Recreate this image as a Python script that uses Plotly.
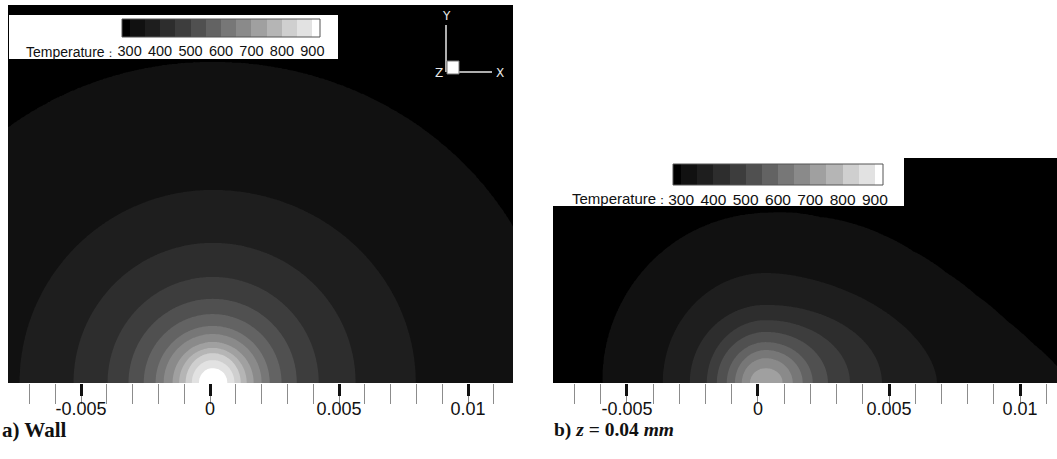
import numpy as np
import plotly.graph_objects as go

W, H = 1057, 459

# isotherm levels (K) and the grey of each band: below 300 ... above 900
LEVELS = [300, 350, 400, 450, 500, 550, 600, 650, 700, 750, 800, 850, 900]
LEVEL_STEP = 50
BAND_GREYS = ["#000000", "#111111", "#1e1e1e", "#2d2d2d", "#3d3d3d", "#505050",
              "#636363", "#777777", "#8a8a8a", "#a0a0a0", "#b5b5b5", "#cfcfcf",
              "#e2e2e2", "#ffffff"]
LEGEND_EDGES = [275, 300, 350, 400, 450, 500, 550, 600, 650, 700, 750, 800, 850, 900, 925]
LEGEND_TICKS = [300, 400, 500, 600, 700, 800, 900]

X_TICKS = [-0.005, 0, 0.005, 0.01]
X_TICK_TEXT = ["-0.005", "0", "0.005", "0.01"]

# a) wall: isotherm extents (m) to the left / right of the spot centre and height
WALL_CX = 0.0001
WALL_LEFT = [0.01310, 0.00748, 0.00539, 0.00407, 0.00326, 0.00267, 0.00221,
             0.00190, 0.00155, 0.00130, 0.00105, 0.00081, 0.00054]
WALL_RIGHT = [0.01333, 0.00787, 0.00554, 0.00411, 0.00326, 0.00267, 0.00221,
              0.00190, 0.00159, 0.00132, 0.00109, 0.00085, 0.00058]
WALL_TOP = [0.01244, 0.00748, 0.00543, 0.00411, 0.00326, 0.00267, 0.00221,
            0.00190, 0.00159, 0.00136, 0.00116, 0.00089, 0.00058]

# b) z = 0.04 mm: isotherms 300..700 K
SUB_CX = 0.0003
SUB_LEVELS = [300, 350, 400, 450, 500, 550, 600, 650, 700]
SUB_LEFT = [0.00622, 0.00393, 0.00290, 0.00225, 0.00187, 0.00149, 0.00118, 0.00092, 0.00061]
SUB_RIGHT = [0.01191, 0.00653, 0.00443, 0.00321, 0.00237, 0.00179, 0.00141, 0.00103, 0.00065]
SUB_TOP = [0.00649, 0.00420, 0.00298, 0.00240, 0.00195, 0.00156, 0.00126, 0.00095, 0.00057]
# shape exponent of the downstream (+x) half of each isotherm
SUB_RIGHT_POWER = [2.0, 1.75, 2.0, 2.0, 2.0, 2.0, 2.0, 2.0, 2.0]
# the 300 K isotherm trails off towards +x: radius (m) against polar angle (deg)
SUB_TAIL_ANGLE = [0, 3.3, 8.8, 14.7, 22.7, 31.3, 41.9, 51.7, 62.3, 72.0, 90, 120, 150, 180]
SUB_TAIL_RADIUS = [0.01191, 0.01113, 0.01024, 0.00947, 0.00869, 0.00808, 0.00754,
                   0.00720, 0.00690, 0.00666, 0.00649, 0.00641, 0.00630, 0.00622]


def px_x(p):
    return p / W


def px_y(p):
    return 1 - p / H


def egg_rho(X, Y, cx, left, right, top, p_right=2.0):
    dx = X - cx
    a = np.where(dx >= 0, right, left)
    p = np.where(dx >= 0, p_right, 2.0)
    return (np.abs(dx / a) ** p + np.abs(Y / top) ** p) ** (1.0 / p)


def polar_rho(X, Y, cx, ang, rad):
    dx = X - cx
    th = np.degrees(np.arctan2(np.abs(Y), dx))
    return np.hypot(dx, Y) / np.interp(th, ang, rad)


def temperature(rhos, levels):
    """Continuous field whose level-k isotherm is the curve rho_k == 1."""
    logs = [np.log(np.maximum(r, 1e-9)) for r in rhos]
    T = levels[0] - 0.8 * LEVEL_STEP * (1 - 1 / np.maximum(rhos[0], 1.0))
    for k in range(len(levels)):
        inside = logs[k] <= 0
        if k + 1 < len(levels):
            band = inside & (logs[k + 1] > 0)
            u, v = logs[k][band], logs[k + 1][band]
            T[band] = levels[k] + LEVEL_STEP * (-u) / (v - u)
        else:
            T[inside] = levels[k] + 0.8 * LEVEL_STEP * (1 - rhos[k][inside])
    return np.round(T, 1)


# stepped grey scale: one flat segment per band
n_band = len(BAND_GREYS)
GREY_SCALE = []
for i, c in enumerate(BAND_GREYS):
    GREY_SCALE.append([i / n_band, c])
    GREY_SCALE.append([(i + 1) / n_band, c])
Z_LO = LEVELS[0] - LEVEL_STEP
Z_HI = LEVELS[-1] + LEVEL_STEP

# ---- fields -------------------------------------------------------------
xa_ = np.linspace(-0.0081, 0.0120, 440)
ya_ = np.linspace(-0.0002, 0.0150, 330)
XA, YA = np.meshgrid(xa_, ya_)
rho_a = [egg_rho(XA, YA, WALL_CX, l, r, t) for l, r, t in zip(WALL_LEFT, WALL_RIGHT, WALL_TOP)]
T_wall = temperature(rho_a, LEVELS)

xb_ = np.linspace(-0.0081, 0.0117, 440)
yb_ = np.linspace(-0.0002, 0.0089, 210)
XB, YB = np.meshgrid(xb_, yb_)
rho_b = [polar_rho(XB, YB, SUB_CX, SUB_TAIL_ANGLE, SUB_TAIL_RADIUS)]
rho_b += [egg_rho(XB, YB, SUB_CX, l, r, t, p)
          for l, r, t, p in zip(SUB_LEFT[1:], SUB_RIGHT[1:], SUB_TOP[1:], SUB_RIGHT_POWER[1:])]
T_sub = temperature(rho_b, SUB_LEVELS)


def contour(x, y, z, xa, ya):
    return go.Contour(
        x=x, y=y, z=z, xaxis=xa, yaxis=ya,
        autocontour=False,
        contours=dict(start=LEVELS[0], end=Z_HI, size=LEVEL_STEP,
                      coloring="fill", showlines=False),
        line=dict(width=0), colorscale=GREY_SCALE, showscale=False,
        hoverinfo="skip",
    )


def legend_bar(xa, ya, y0, y1):
    mids = [(a + b) / 2 for a, b in zip(LEGEND_EDGES[:-1], LEGEND_EDGES[1:])]
    return go.Heatmap(
        x=LEGEND_EDGES, y=[y0, y1], z=[mids], zmin=Z_LO, zmax=Z_HI,
        colorscale=GREY_SCALE, showscale=False, xaxis=xa, yaxis=ya,
        hoverinfo="skip",
    )


# legend geometry in pixels: white box and colour bar
LEG_A = dict(box=(9, 338, 15, 59), bar=(122, 320, 19, 37), tx=24, ty=52, fs=14)
LEG_B = dict(box=(553, 904, 158, 206), bar=(673, 883, 164, 185), tx=570, ty=199, fs=15)


def legend_axes(g):
    bx0, bx1, by0, by1 = g["box"]
    cx0, cx1, cy0, cy1 = g["bar"]
    k = (cx1 - cx0) / (LEGEND_EDGES[-1] - LEGEND_EDGES[0])
    xr = [LEGEND_EDGES[0] - (cx0 - bx0) / k, LEGEND_EDGES[-1] + (bx1 - cx1) / k]
    xax = dict(domain=[px_x(bx0), px_x(bx1)], range=xr, anchor="free",
               position=px_y(cy1), tickmode="array", tickvals=LEGEND_TICKS,
               ticks="", showgrid=False, zeroline=False, showline=False,
               tickfont=dict(family="Liberation Sans, Arial", size=g["fs"] + 0.5, color="#111"),
               ticklabelstandoff=3, fixedrange=True)
    yax = dict(domain=[px_y(by1), px_y(by0)], range=[0, by1 - by0], visible=False,
               fixedrange=True)
    bar_y = (by1 - cy1, by1 - cy0)
    return xax, yax, bar_y


xax3, yax3, bar_a = legend_axes(LEG_A)
xax4, yax4, bar_b = legend_axes(LEG_B)

fig = go.Figure()
fig.add_trace(contour(xa_, ya_, T_wall, "x", "y"))
fig.add_trace(contour(xb_, yb_, T_sub, "x2", "y2"))
fig.add_trace(legend_bar("x3", "y3", *bar_a))
fig.add_trace(legend_bar("x4", "y4", *bar_b))

tickfont = dict(family="Liberation Sans, Arial", size=18, color="#111")


def main_xaxis(dom, rng, anchor):
    return dict(
        domain=dom, range=rng, anchor=anchor,
        tickmode="array", tickvals=X_TICKS, ticktext=X_TICK_TEXT,
        ticks="outside", ticklen=12, tickwidth=3, tickcolor="#111",
        minor=dict(tickmode="linear", tick0=0, dtick=0.001, ticks="outside",
                   ticklen=20, tickwidth=1, tickcolor="#8c8c8c", showgrid=False),
        showgrid=False, zeroline=False, showline=False,
        tickfont=tickfont, ticklabelstandoff=-3, fixedrange=True,
    )


fig.update_layout(
    width=W, height=H, margin=dict(l=0, r=0, t=0, b=0),
    paper_bgcolor="white", plot_bgcolor="white", showlegend=False,
    xaxis=main_xaxis([px_x(8), px_x(513)], [-0.00783, 0.01174], "y"),
    yaxis=dict(domain=[px_y(383), px_y(5)], range=[0, 0.01465], visible=False, fixedrange=True),
    xaxis2=main_xaxis([px_x(553), 1.0], [-0.00782, 0.01141], "y2"),
    yaxis2=dict(domain=[px_y(383), px_y(158)], range=[0, 0.00859], visible=False,
                anchor="x2", fixedrange=True),
    xaxis3=xax3, yaxis3=yax3, xaxis4=xax4, yaxis4=yax4,
)

shapes = []
annotations = []
for g in (LEG_A, LEG_B):
    annotations.append(dict(
        text="Temperature<span style='font-size:%dpx'>：</span>" % (g["fs"] - 3),
        x=px_x(g["tx"]), y=px_y(g["ty"]), xref="paper", yref="paper",
        xanchor="left", yanchor="middle", showarrow=False,
        font=dict(family="Liberation Sans, Arial", size=g["fs"], color="#111")))
for (xr, yr), by in ((("x3", "y3"), bar_a), (("x4", "y4"), bar_b)):
    shapes.append(dict(type="rect", xref=xr, yref=yr, x0=LEGEND_EDGES[0], x1=LEGEND_EDGES[-1],
                       y0=by[0], y1=by[1], line=dict(color="#555", width=1),
                       fillcolor="rgba(0,0,0,0)", layer="above"))

# coordinate triad (X right, Y up, Z out of the page)
triad = "#e8e8e8"
shapes += [
    dict(type="line", xref="paper", yref="paper", x0=px_x(446), x1=px_x(446),
         y0=px_y(72), y1=px_y(25), line=dict(color=triad, width=1.5)),
    dict(type="line", xref="paper", yref="paper", x0=px_x(459), x1=px_x(492),
         y0=px_y(72), y1=px_y(72), line=dict(color=triad, width=1.5)),
    dict(type="rect", xref="paper", yref="paper", x0=px_x(447), x1=px_x(459),
         y0=px_y(74), y1=px_y(61), fillcolor="white", line=dict(color="#777", width=1)),
]
for t, x, y in (("Y", 446, 16), ("X", 500, 73), ("Z", 439, 73)):
    annotations.append(dict(text=t, x=px_x(x), y=px_y(y), xref="paper", yref="paper",
                            showarrow=False, xanchor="center", yanchor="middle",
                            font=dict(family="DejaVu Sans", size=12, color=triad)))

# panel captions
serif = dict(family="Liberation Serif, Times New Roman", size=21, color="#111")
annotations.append(dict(text="<b>a) Wall</b>", x=px_x(0), y=px_y(430), xref="paper",
                        yref="paper", xanchor="left", yanchor="middle", showarrow=False,
                        font=serif))
annotations.append(dict(text="<b>b) <i>z</i> = 0.04 <i>mm</i></b>", x=px_x(552), y=px_y(430),
                        xref="paper", yref="paper", xanchor="left", yanchor="middle",
                        showarrow=False, font=dict(serif, size=19.5)))

fig.update_layout(shapes=shapes, annotations=annotations)
fig.write_html("out.html")
